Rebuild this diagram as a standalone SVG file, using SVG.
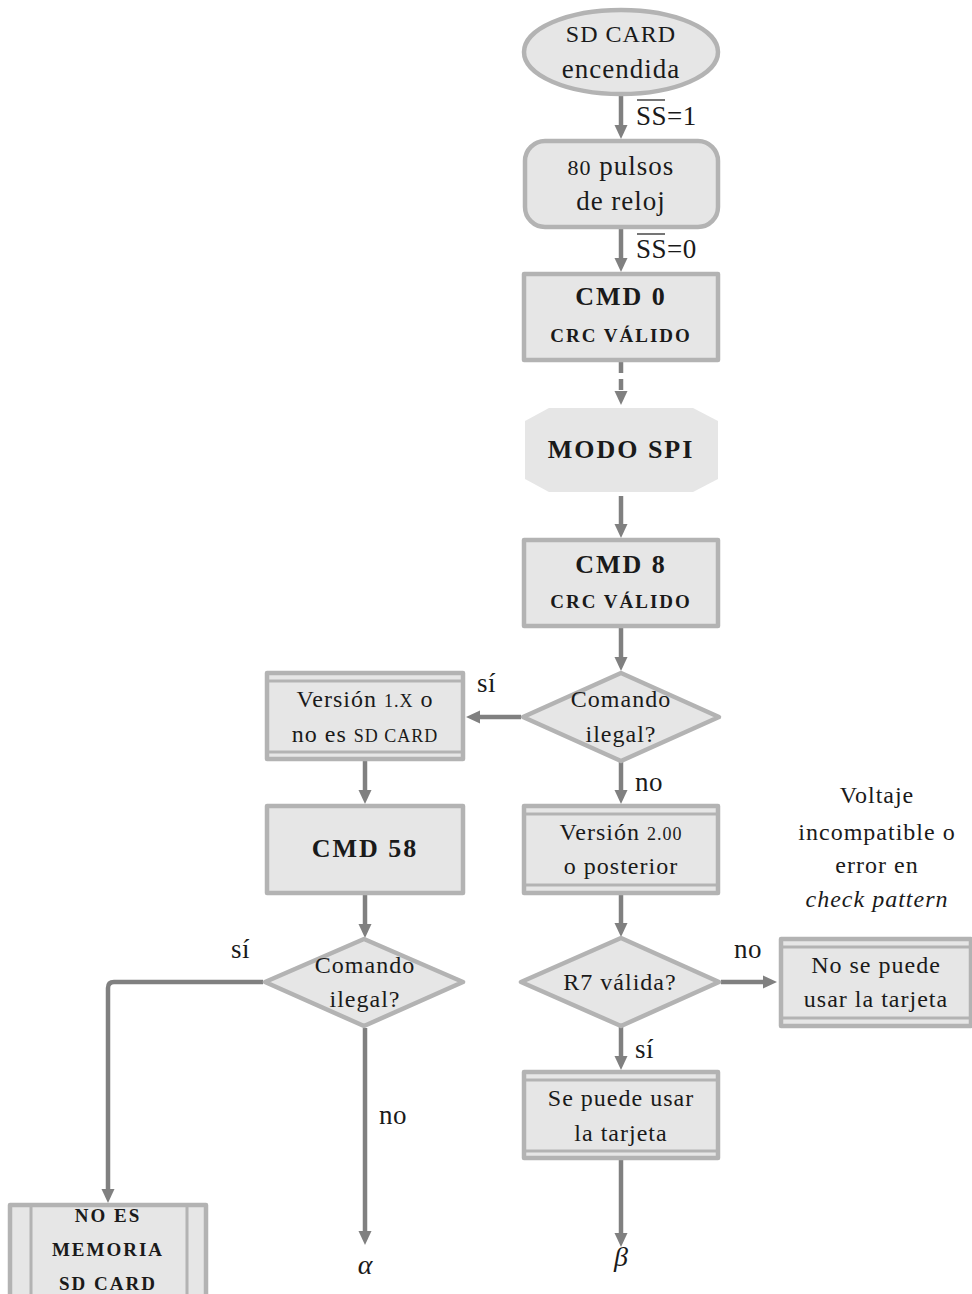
<svg xmlns="http://www.w3.org/2000/svg" width="972" height="1294" viewBox="0 0 972 1294">
  <style>
    .shape { fill: #e6e6e6; stroke: #b3b3b3; stroke-width: 4.5; stroke-linejoin: round; }
    .rule { stroke: #b3b3b3; stroke-width: 3; fill: none; }
    .flow { stroke: #808080; stroke-width: 4.5; fill: none; stroke-linejoin: round; }
    .dashed { stroke-dasharray: 11 6; }
    text { font-family: "Liberation Serif", "DejaVu Serif", serif; fill: #1a1a1a; text-anchor: middle; }
    .t { font-size: 24px; letter-spacing: 1px; }
    .big { font-size: 27px; letter-spacing: 1px; }
    .lbl { font-size: 27px; letter-spacing: 0.5px; text-anchor: start; }
    .bold { font-size: 26px; font-weight: bold; letter-spacing: 2px; }
    .sc { font-size: 19px; font-weight: bold; letter-spacing: 2px; }
    .small { font-size: 18px; }
    .math { font-size: 28px; font-style: italic; }
  </style>
  <defs>
    <marker id="arrow" viewBox="0 0 14 14" refX="6" refY="7" markerWidth="14" markerHeight="14" markerUnits="userSpaceOnUse" orient="auto">
      <path d="M0,0.5 L14,7 L0,13.5 Z" fill="#808080"/>
    </marker>
  </defs>

  <!-- connectors -->
  <g id="connectors">
    <line class="flow" x1="621" y1="96" x2="621" y2="131" marker-end="url(#arrow)"/>
    <line class="flow" x1="621" y1="229" x2="621" y2="264" marker-end="url(#arrow)"/>
    <line class="flow dashed" x1="621" y1="362" x2="621" y2="397" marker-end="url(#arrow)"/>
    <line class="flow" x1="621" y1="496" x2="621" y2="530" marker-end="url(#arrow)"/>
    <line class="flow" x1="621" y1="628" x2="621" y2="663" marker-end="url(#arrow)"/>
    <line class="flow" x1="521" y1="717" x2="474" y2="717" marker-end="url(#arrow)"/>
    <line class="flow" x1="621" y1="762" x2="621" y2="796" marker-end="url(#arrow)"/>
    <line class="flow" x1="365" y1="761" x2="365" y2="796" marker-end="url(#arrow)"/>
    <line class="flow" x1="365" y1="895" x2="365" y2="930" marker-end="url(#arrow)"/>
    <line class="flow" x1="621" y1="895" x2="621" y2="929" marker-end="url(#arrow)"/>
    <line class="flow" x1="721" y1="982" x2="769" y2="982" marker-end="url(#arrow)"/>
    <line class="flow" x1="621" y1="1027" x2="621" y2="1062" marker-end="url(#arrow)"/>
    <line class="flow" x1="621" y1="1160" x2="621" y2="1239" marker-end="url(#arrow)"/>
    <line class="flow" x1="365" y1="1028" x2="365" y2="1237" marker-end="url(#arrow)"/>
    <path class="flow" d="M263,982 H114 Q108,982 108,988 V1195" marker-end="url(#arrow)"/>

    <text class="lbl" x="636" y="125" font-size="23">SS=1</text>
    <line x1="637" y1="100" x2="665" y2="100" stroke="#1a1a1a" stroke-width="1.2"/>
    <text class="lbl" x="636" y="258" font-size="23">SS=0</text>
    <line x1="637" y1="234" x2="665" y2="234" stroke="#1a1a1a" stroke-width="1.2"/>
    <text class="lbl" x="477" y="692">sí</text>
    <text class="lbl" x="635" y="791">no</text>
    <text class="lbl" x="734" y="958">no</text>
    <text class="lbl" x="635" y="1058">sí</text>
    <text class="lbl" x="231" y="958">sí</text>
    <text class="lbl" x="379" y="1124">no</text>
    <text class="math" x="365" y="1274">α</text>
    <text class="math" x="621" y="1266">β</text>
  </g>

  <g id="start">
    <ellipse class="shape" cx="621" cy="52" rx="97" ry="42"/>
    <text class="t" x="621" y="42">SD CARD</text>
    <text class="big" x="621" y="78">encendida</text>
  </g>

  <g id="clock">
    <rect class="shape" x="525" y="141" width="193" height="86" rx="20"/>
    <text class="big" x="621" y="175"><tspan font-size="22">80</tspan> pulsos</text>
    <text class="big" x="621" y="210">de reloj</text>
  </g>

  <g id="cmd0">
    <rect class="shape" x="524" y="274" width="194" height="86"/>
    <text class="bold" x="621" y="305">CMD 0</text>
    <text class="sc" x="621" y="342">CRC VÁLIDO</text>
  </g>

  <g id="spi">
    <polygon points="549,408 693,408 718,421 718,479 693,492 549,492 525,479 525,421" fill="#e6e6e6"/>
    <text class="bold" x="621" y="458">MODO SPI</text>
  </g>

  <g id="cmd8">
    <rect class="shape" x="524" y="540" width="194" height="86"/>
    <text class="bold" x="621" y="573">CMD 8</text>
    <text class="sc" x="621" y="608">CRC VÁLIDO</text>
  </g>

  <g id="illegal1">
    <polygon class="shape" points="523,717 621,673 719,717 621,761"/>
    <text class="t" x="621" y="707">Comando</text>
    <text class="t" x="621" y="742">ilegal?</text>
  </g>

  <g id="v1">
    <rect class="shape" x="267" y="673" width="196" height="86"/>
    <line class="rule" x1="267" y1="681" x2="463" y2="681"/>
    <line class="rule" x1="267" y1="752" x2="463" y2="752"/>
    <text class="t" x="365" y="707">Versión <tspan class="small">1.X</tspan> o</text>
    <text class="t" x="365" y="742">no es <tspan class="small">SD CARD</tspan></text>
  </g>

  <g id="cmd58">
    <rect class="shape" x="267" y="806" width="196" height="87"/>
    <text class="bold" x="365" y="857">CMD 58</text>
  </g>

  <g id="illegal2">
    <polygon class="shape" points="265,982 364,939 463,982 364,1026"/>
    <text class="t" x="365" y="973">Comando</text>
    <text class="t" x="365" y="1007">ilegal?</text>
  </g>

  <g id="notsd">
    <rect class="shape" x="10" y="1205" width="196" height="100"/>
    <line class="rule" x1="31" y1="1205" x2="31" y2="1305"/>
    <line class="rule" x1="187" y1="1205" x2="187" y2="1305"/>
    <text class="sc" x="108" y="1222">NO ES</text>
    <text class="sc" x="108" y="1256">MEMORIA</text>
    <text class="sc" x="108" y="1290">SD CARD</text>
  </g>

  <g id="v2">
    <rect class="shape" x="524" y="806" width="194" height="87"/>
    <line class="rule" x1="524" y1="814" x2="718" y2="814"/>
    <line class="rule" x1="524" y1="885" x2="718" y2="885"/>
    <text class="t" x="621" y="840">Versión <tspan class="small">2.00</tspan></text>
    <text class="t" x="621" y="874">o posterior</text>
  </g>

  <g id="r7">
    <polygon class="shape" points="521,982 621,938 719,982 621,1026"/>
    <text class="t" x="620" y="990">R7 válida?</text>
  </g>

  <g id="unusable">
    <rect class="shape" x="781" y="939" width="190" height="87"/>
    <line class="rule" x1="781" y1="947" x2="971" y2="947"/>
    <line class="rule" x1="781" y1="1018" x2="971" y2="1018"/>
    <text class="t" x="876" y="973">No se puede</text>
    <text class="t" x="876" y="1007">usar la tarjeta</text>
  </g>

  <g id="note">
    <text class="t" x="877" y="803">Voltaje</text>
    <text class="t" x="877" y="840">incompatible o</text>
    <text class="t" x="877" y="873">error en</text>
    <text class="t" x="877" y="907" font-style="italic">check pattern</text>
  </g>

  <g id="usable">
    <rect class="shape" x="524" y="1072" width="194" height="86"/>
    <line class="rule" x1="524" y1="1080" x2="718" y2="1080"/>
    <line class="rule" x1="524" y1="1151" x2="718" y2="1151"/>
    <text class="t" x="621" y="1106">Se puede usar</text>
    <text class="t" x="621" y="1141">la tarjeta</text>
  </g>
</svg>
